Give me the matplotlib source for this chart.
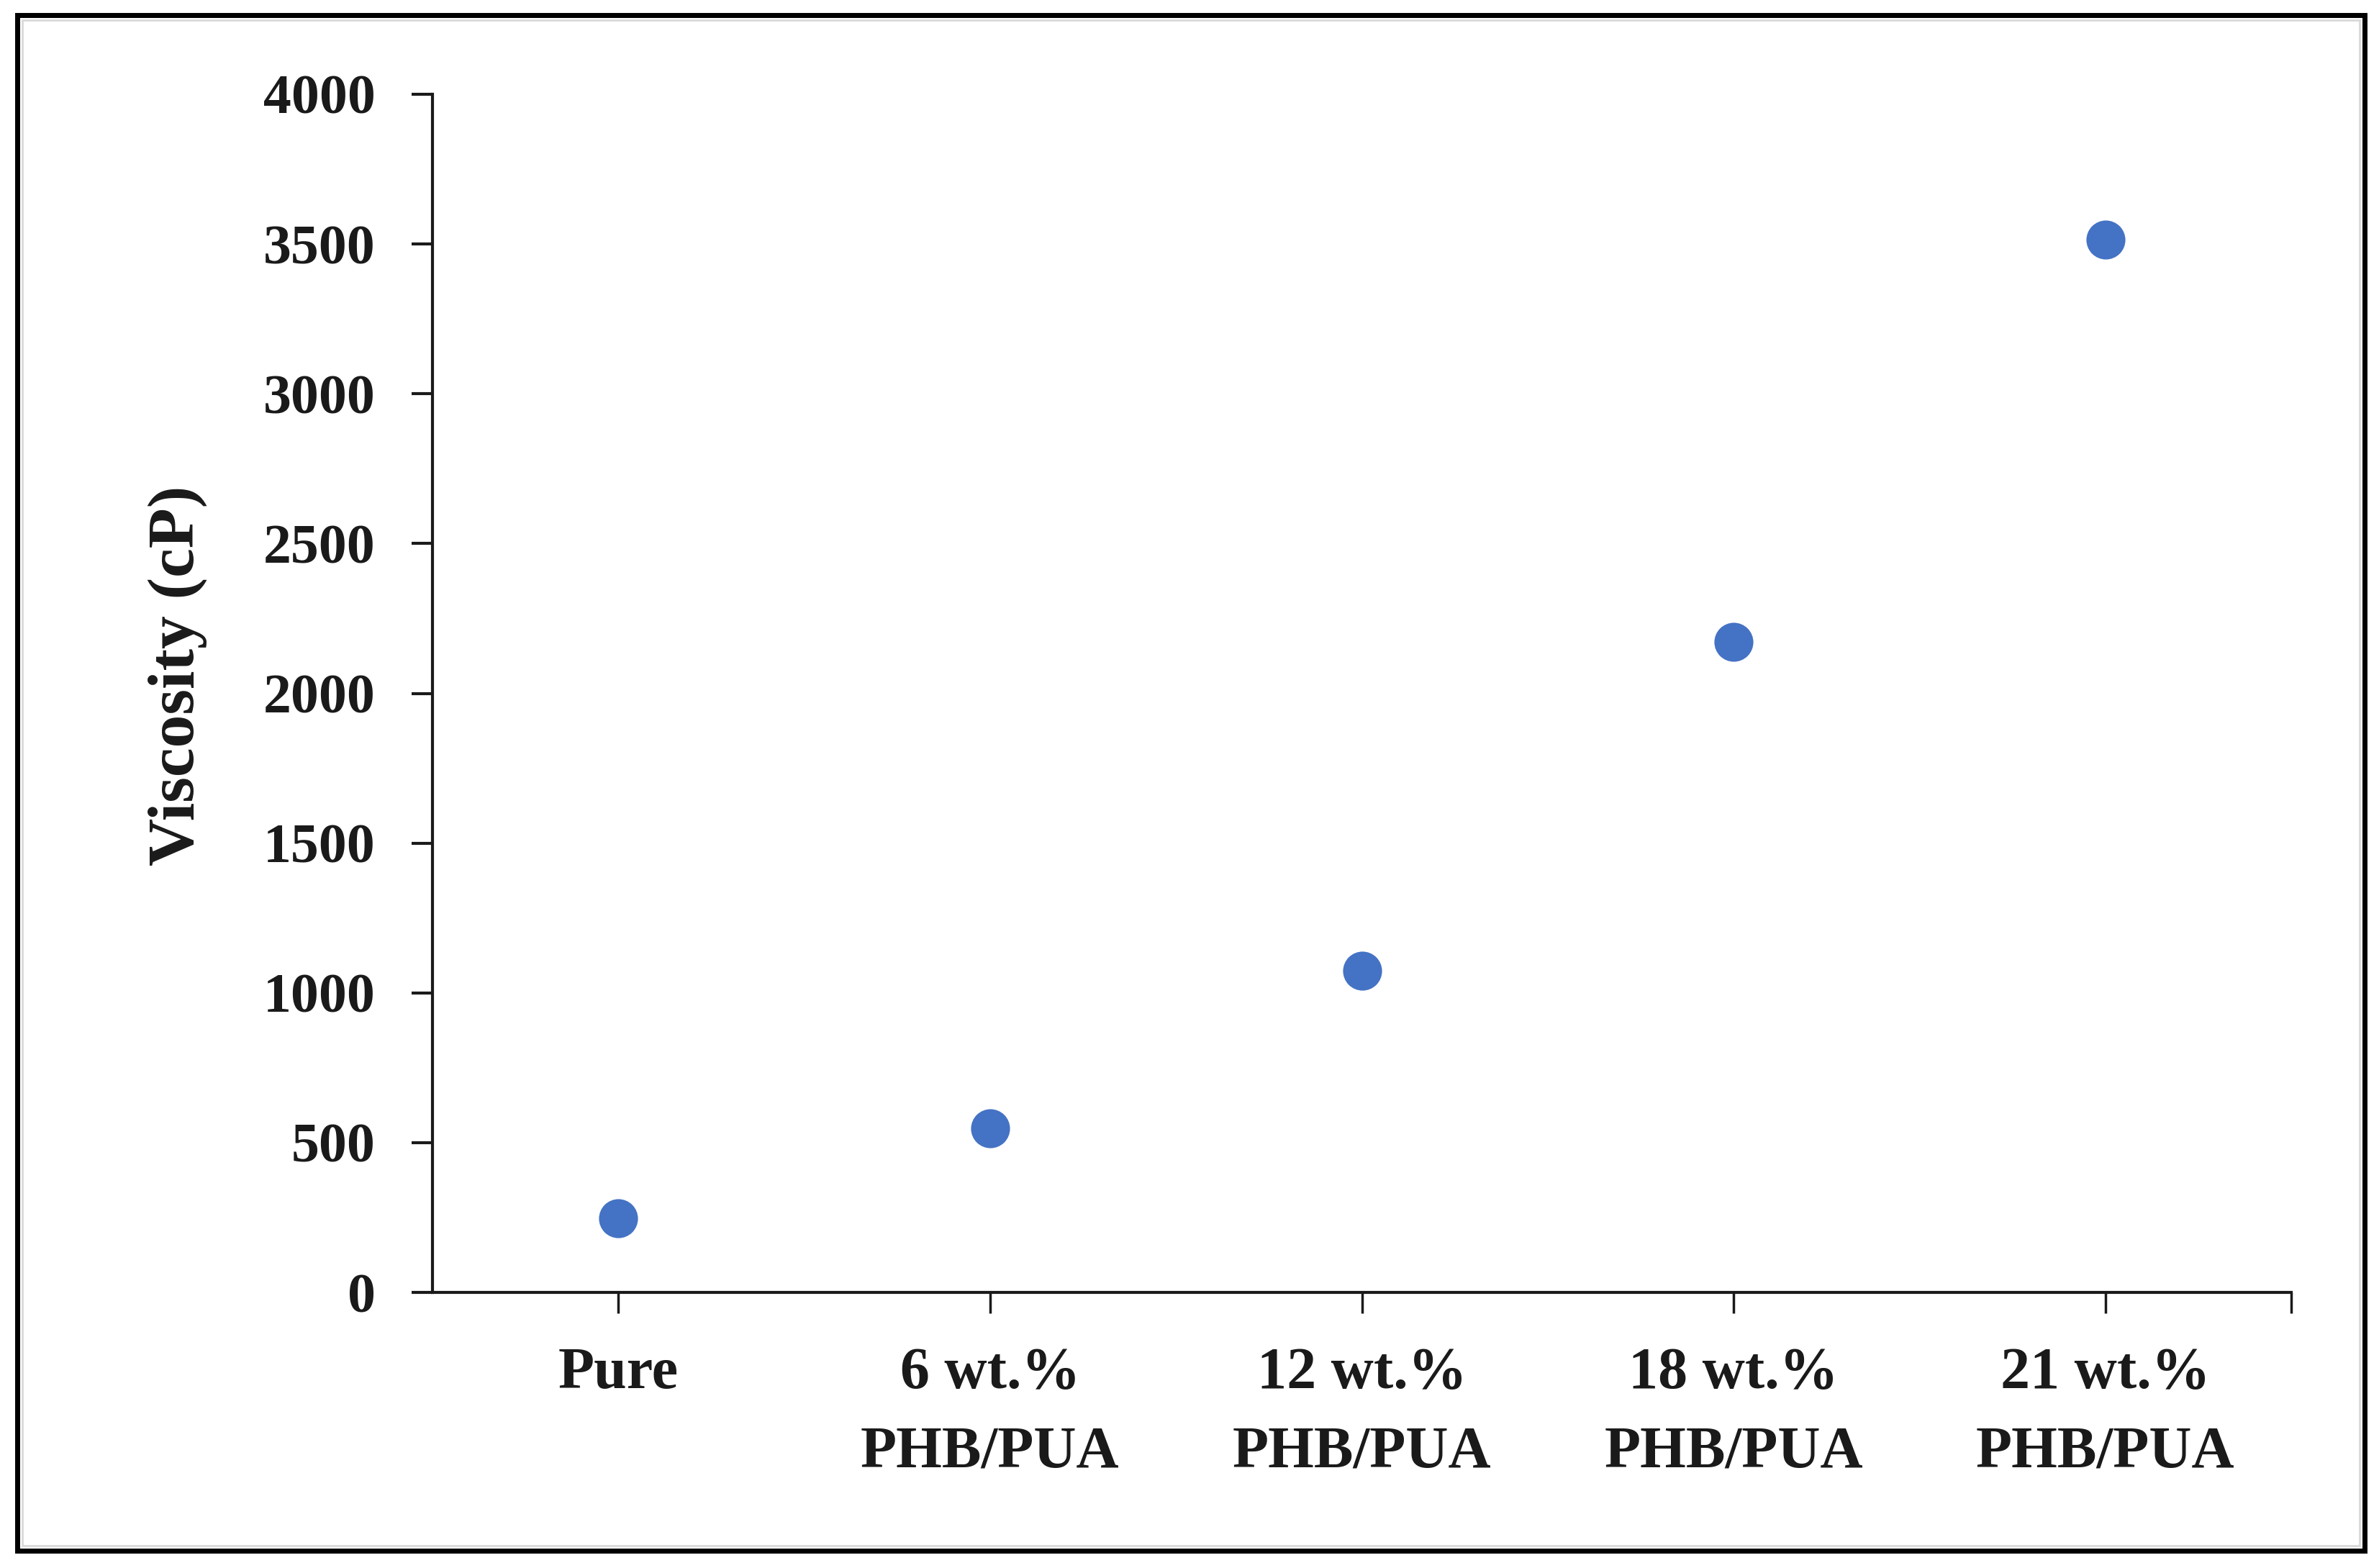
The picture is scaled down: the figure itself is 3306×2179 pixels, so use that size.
import matplotlib
matplotlib.use("Agg")
import matplotlib.pyplot as plt
from matplotlib.patches import Rectangle

categories = ["Pure", "6 wt.%\nPHB/PUA", "12 wt.%\nPHB/PUA", "18 wt.%\nPHB/PUA", "21 wt.%\nPHB/PUA"]
viscosity = [248, 547, 1073, 2172, 3514]
y_ticks = [0, 500, 1000, 1500, 2000, 2500, 3000, 3500, 4000]

plt.rcParams['font.family'] = ['Liberation Serif', 'DejaVu Serif']
plt.rcParams['font.weight'] = 'bold'

W, H = 3306, 2179
dpi = 100
fig = plt.figure(figsize=(W / dpi, H / dpi), dpi=dpi)
fig.patch.set_facecolor('white')

ax = fig.add_axes([601 / W, 1 - 1796 / H, (3184 - 601) / W, (1796 - 131) / H])

x = list(range(len(categories)))
ax.plot(x, viscosity, linestyle='none', marker='o', markersize=39,
        color='#4472C4', markeredgewidth=0, zorder=3)

ax.set_xlim(-0.5, len(categories) - 0.5)
ax.set_ylim(0, 4000)
ax.set_yticks(y_ticks)
ax.set_yticklabels([str(v) for v in y_ticks])
ax.set_xticks(x)
ax.set_xticklabels(categories, linespacing=1.6)
ax.set_xticks([len(categories) - 0.5], minor=True)

for s in ['top', 'right']:
    ax.spines[s].set_visible(False)
for s in ['left', 'bottom']:
    ax.spines[s].set_linewidth(3)
    ax.spines[s].set_color('#1a1a1a')

ax.tick_params(axis='y', direction='out', length=21, width=3, pad=36,
               labelsize=56, colors='#1a1a1a')
ax.tick_params(axis='x', which='both', direction='out', length=21, width=2.5, pad=34,
               labelsize=59, colors='#1a1a1a')
for lab in ax.get_xticklabels() + ax.get_yticklabels():
    lab.set_fontweight('bold')

fig.text(247 / W, 1 - 939 / H, "Viscosity (cP)", rotation=90, ha='center', va='center',
         fontsize=66, fontweight='bold', color='#1a1a1a')

# outer frame
fig.patches.append(Rectangle((24 / W, 24 / H), (3286 - 24) / W, (2158 - 24) / H,
                             transform=fig.transFigure, fill=False,
                             edgecolor='black', linewidth=5, zorder=10))
fig.patches.append(Rectangle((31 / W, 31 / H), (3279 - 31) / W, (2151 - 31) / H,
                             transform=fig.transFigure, fill=False,
                             edgecolor='#d9d9d9', linewidth=2, zorder=10))

fig.savefig("out.png", dpi=dpi, facecolor='white')
